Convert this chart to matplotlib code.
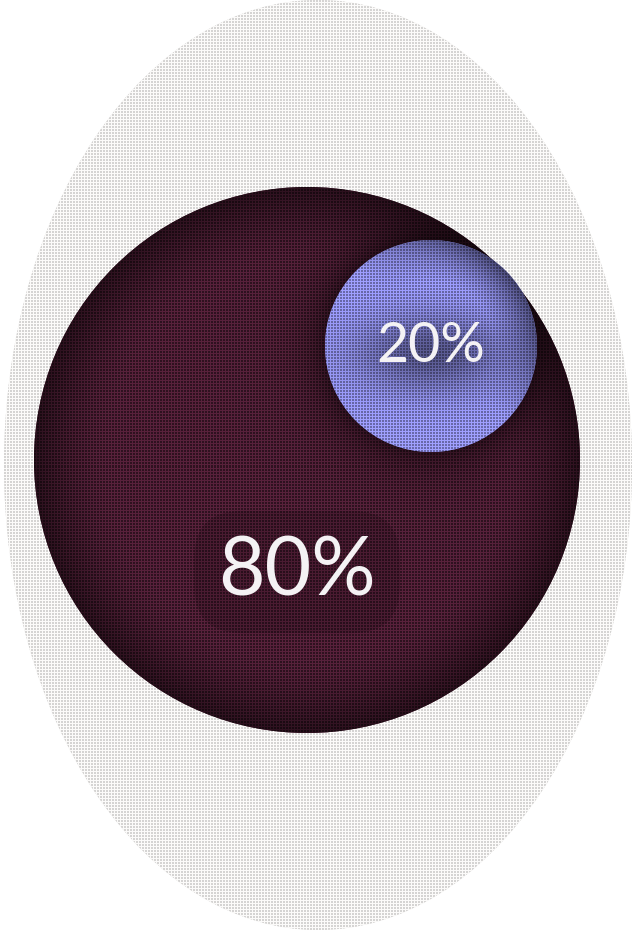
"""
plot.py -- textured bubble chart: two shares packed inside an oval frame.
"""

import numpy as np
import matplotlib
matplotlib.use("Agg")
import matplotlib.pyplot as plt
from matplotlib.patches import Circle, Ellipse

# Data
labels = ["80%", "20%"]
values = [80, 20]
face_colors = ["#441a2e", "#8484d6"]

# Layout (pixel space of a 638x930 canvas)
W, H = 638, 930
FRAME_CENTER = (318, 465)
FRAME_SIZE = (628, 930)
BUBBLE_CENTERS = [(307, 460), (431, 346)]
LABEL_OFFSETS = [(-10, 112), (0, 0)]
LABEL_SIZES = [58, 40]
R_MIN, R_MAX = 106, 273


def radius_scale(v):
    # sqrt scale between the smallest and largest value
    lo, hi = np.sqrt(min(values)), np.sqrt(max(values))
    return R_MIN + (R_MAX - R_MIN) * (np.sqrt(v) - lo) / (hi - lo)


yy, xx = np.mgrid[0:H, 0:W].astype(float)
grid = ((xx % 3) == 0) | ((yy % 3) == 0)


def textured(rgb, shade, light=1.3, dark=0.72):
    rgb = np.asarray(matplotlib.colors.to_rgb(rgb)) if isinstance(rgb, str) else rgb
    tex = np.where(grid, light, dark)[..., None]
    img = rgb * shade[..., None] * tex
    return np.clip(img, 0, 1)


def main() -> None:
    fig = plt.figure(figsize=(W / 100, H / 100), dpi=100)
    ax = fig.add_axes([0, 0, 1, 1])
    ax.set_xlim(0, W)
    ax.set_ylim(H, 0)
    ax.axis("off")
    extent = (0, W, H, 0)

    # oval frame
    frame = Ellipse(FRAME_CENTER, *FRAME_SIZE, facecolor="#e8e6e4", edgecolor="none")
    ax.add_patch(frame)
    img = textured(np.array([0.91, 0.905, 0.9]), np.ones((H, W)), light=1.09, dark=0.92)
    im = ax.imshow(img, extent=extent, interpolation="nearest", zorder=1)
    im.set_clip_path(frame)

    radii = [radius_scale(v) for v in values]
    (bx, by), (sx, sy) = BUBBLE_CENTERS
    rb, rs = radii

    # big bubble: darker rim plus a soft shadow around the small bubble
    big = Circle((bx, by), rb, facecolor=face_colors[0], edgecolor="none", zorder=2)
    ax.add_patch(big)
    d = np.hypot(xx - bx, yy - by) / rb
    shade = 1 - 0.5 * np.clip((d - 0.72) / 0.28, 0, 1) ** 1.5
    ds = np.hypot(xx - sx, yy - sy) - rs
    shade *= 1 - 0.45 * np.exp(-np.clip(ds, 0, None) / 22)
    im = ax.imshow(textured(face_colors[0], shade, light=1.3, dark=0.68), extent=extent,
                   interpolation="nearest", zorder=3)
    im.set_clip_path(big)

    # small bubble: darker core and darker top-right rim
    small = Circle((sx, sy), rs, facecolor=face_colors[1], edgecolor="none", zorder=4)
    ax.add_patch(small)
    core = np.exp(-(((xx - sx) / 75) ** 2 + ((yy - sy - 8) / 38) ** 2))
    rim = np.clip((np.hypot(xx - sx, yy - sy) / rs - 0.6) / 0.4, 0, 1)
    rim *= np.clip(((xx - sx) - (yy - sy)) / (1.4 * rs), 0, 1)
    shade = 1 - 0.45 * core - 0.55 * rim
    im = ax.imshow(textured(face_colors[1], shade, light=1.22, dark=0.8), extent=extent,
                   interpolation="nearest", zorder=5)
    im.set_clip_path(small)

    # labels
    for i, lab in enumerate(labels):
        cx, cy = BUBBLE_CENTERS[i]
        ox, oy = LABEL_OFFSETS[i]
        box = None
        if i == 0:
            box = dict(boxstyle="round,pad=0.3,rounding_size=0.6",
                       facecolor="#14040b", edgecolor="none", alpha=0.2)
        ax.text(cx + ox, cy + oy, lab, ha="center", va="center",
                fontsize=LABEL_SIZES[i], color="#f4f2f4", family=["Lato", "DejaVu Sans"],
                fontweight="normal", zorder=6, bbox=box)

    fig.savefig("out.png", dpi=100, facecolor="white")
    plt.close(fig)


if __name__ == "__main__":
    main()
